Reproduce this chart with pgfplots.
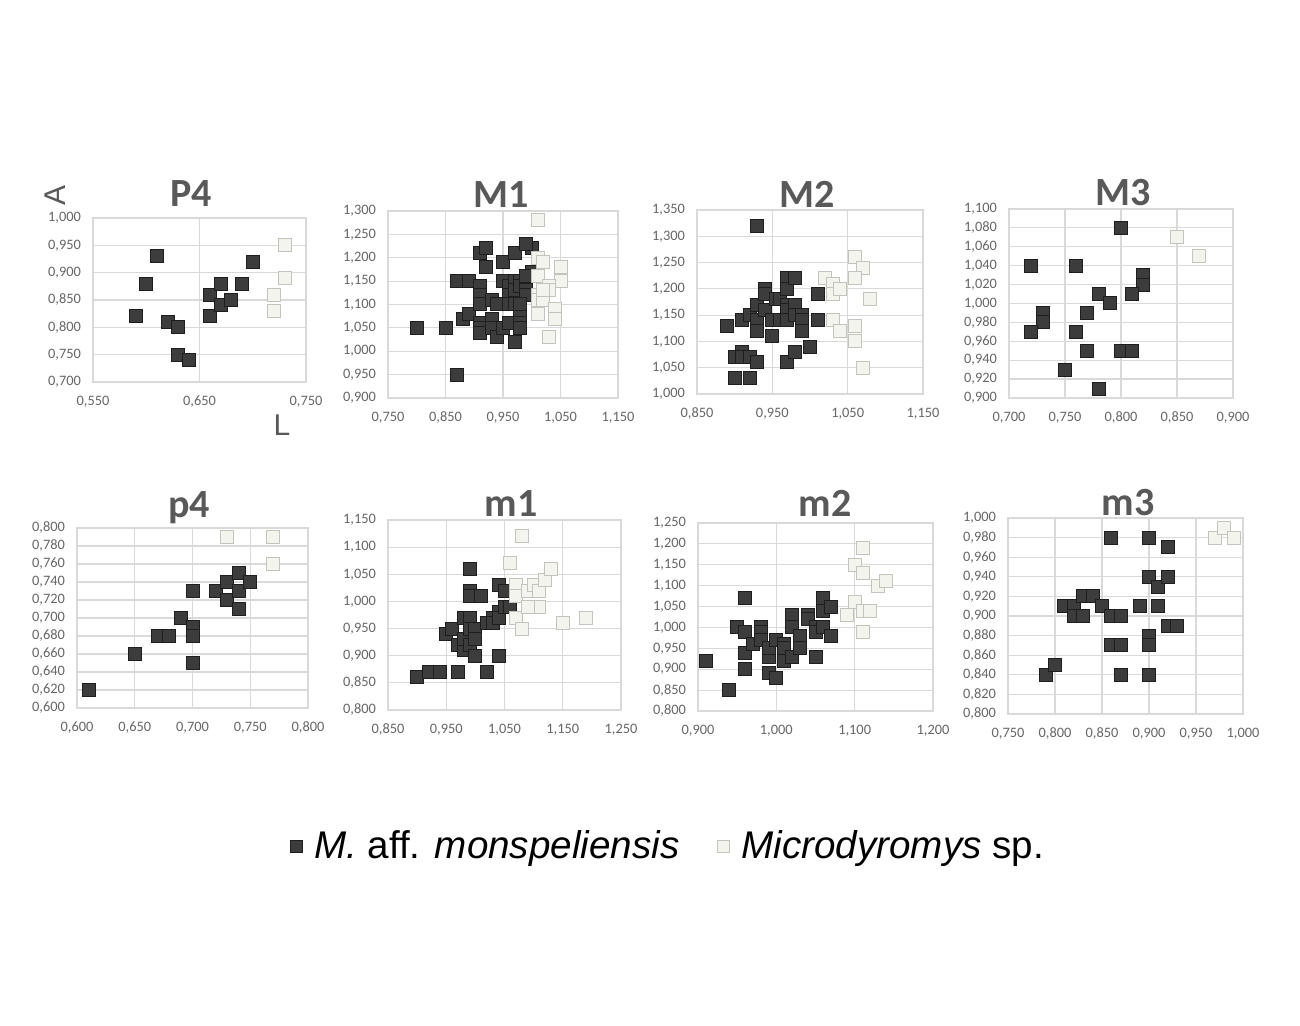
\documentclass[border=0pt]{standalone}
\usepackage{pgfplots}
\pgfplotsset{compat=1.18}
\usepackage{fontspec}
\setmainfont{Carlito}
\newfontfamily\arial{Liberation Sans}
\definecolor{gridc}{HTML}{D9D9D9}
\definecolor{tickc}{HTML}{666666}
\definecolor{titc}{HTML}{595959}
\definecolor{darkf}{HTML}{3C3C3C}
\definecolor{darkd}{HTML}{1E1E1E}
\definecolor{lightf}{HTML}{F4F4EE}
\definecolor{lightd}{HTML}{C4C4BC}
\newcommand\ticks{\fontsize{7.2}{8}\selectfont}
\newcommand\ttl{\fontsize{20}{24}\selectfont\bfseries}
\pgfplotsset{
  panel/.style={
    scale only axis, clip=false,
    grid=major, grid style={draw=gridc, line width=0.6pt},
    axis line style={draw=gridc, line width=0.6pt},
    major tick length=0pt,
    tick label style={font=\ticks, text=tickc},
    xticklabel style={yshift=-3.5pt, /pgf/number format/fixed, /pgf/number format/fixed zerofill, /pgf/number format/precision=3, /pgf/number format/use comma, /pgf/number format/assume math mode=true},
    yticklabel style={xshift=-2.5pt, /pgf/number format/fixed, /pgf/number format/fixed zerofill, /pgf/number format/precision=3, /pgf/number format/use comma, /pgf/number format/assume math mode=true},
    scaled ticks=false,
    title style={font=\ttl, text=titc, anchor=base, yshift=-6pt},
  },
  dk/.style={only marks, mark=square*, mark size=3.25pt, mark options={fill=darkf, draw=darkd, line width=0.5pt}},
  lt/.style={only marks, mark=square*, mark size=3.25pt, mark options={fill=lightf, draw=lightd, line width=0.5pt}},
}
\begin{document}
\begin{tikzpicture}
\path[use as bounding box, fill=white] (0,0) rectangle (650pt,513pt);
% P4
\begin{axis}[panel, at={(46.5pt,322pt)}, anchor=south west, width=106.5pt, height=82pt,
  xmin=0.55, xmax=0.75, ymin=0.70, ymax=1.00,
  xtick={0.55,0.65,0.75}, ytick={0.70,0.75,0.80,0.85,0.90,0.95,1.00},
  title={P4}, title style={at={(0.460,1.067)}}]
\addplot[dk] coordinates {(0.59,0.82)(0.61,0.93)(0.60,0.88)(0.62,0.81)(0.63,0.80)(0.63,0.75)(0.64,0.74)(0.66,0.86)(0.66,0.82)(0.67,0.88)(0.67,0.84)(0.68,0.85)(0.69,0.88)(0.70,0.92)};
\addplot[lt] coordinates {(0.73,0.95)(0.73,0.89)(0.72,0.86)(0.72,0.83)};
\node[font=\arial\fontsize{15}{16}\selectfont, text=titc, rotate=90] at (rel axis cs:-0.178,1.14) {A};
\node[font=\arial\fontsize{15}{16}\selectfont, text=titc] at (rel axis cs:0.887,-0.262) {L};
\end{axis}
% M1
\begin{axis}[panel, at={(194pt,314pt)}, anchor=south west, width=115pt, height=93.5pt,
  xmin=0.75, xmax=1.15, ymin=0.90, ymax=1.30,
  xtick={0.75,0.85,0.95,1.05,1.15}, ytick={0.90,0.95,1.00,1.05,1.10,1.15,1.20,1.25,1.30},
  title={M1}, title style={at={(0.491,1.021)}}]
\addplot[dk] coordinates {(0.80,1.05)(0.85,1.05)(0.87,0.95)(0.87,1.15)(0.89,1.15)(0.88,1.07)(0.89,1.08)
(0.91,1.21)(0.92,1.22)(0.92,1.18)(0.91,1.14)(0.91,1.12)(0.91,1.10)(0.91,1.06)(0.91,1.05)(0.91,1.04)
(0.93,1.11)(0.93,1.07)(0.93,1.05)(0.94,1.10)(0.94,1.03)(0.95,1.19)(0.95,1.15)(0.95,1.05)
(0.96,1.14)(0.96,1.12)(0.96,1.10)(0.97,1.21)(0.97,1.02)(0.97,1.15)(0.97,1.13)(0.97,1.10)(0.96,1.06)
(0.98,1.15)(0.98,1.14)(0.98,1.08)(0.98,1.06)(0.98,1.05)(1.00,1.22)(0.99,1.23)(0.99,1.13)(0.99,1.12)
(1.00,1.17)(0.98,1.10)(0.99,1.16)};
\addplot[lt] coordinates {(1.01,1.28)(1.01,1.20)(1.02,1.19)(1.01,1.16)(1.05,1.18)(1.05,1.15)(1.03,1.14)(1.03,1.13)
(1.01,1.12)(1.01,1.11)(1.02,1.11)(1.04,1.09)(1.01,1.08)(1.04,1.07)(1.03,1.03)(1.02,1.13)};
\end{axis}
% M2
\begin{axis}[panel, at={(348.5pt,316pt)}, anchor=south west, width=113pt, height=92pt,
  xmin=0.85, xmax=1.15, ymin=1.00, ymax=1.35,
  xtick={0.85,0.95,1.05,1.15}, ytick={1.00,1.05,1.10,1.15,1.20,1.25,1.30,1.35},
  title={M2}, title style={at={(0.487,1.016)}}]
\addplot[dk] coordinates {(0.93,1.32)(0.89,1.13)(0.90,1.07)(0.90,1.03)(0.92,1.03)(0.91,1.08)(0.91,1.07)(0.92,1.07)
(0.93,1.06)(0.91,1.14)(0.92,1.15)(0.93,1.17)(0.93,1.14)(0.93,1.12)(0.94,1.20)(0.94,1.19)(0.94,1.16)
(0.95,1.14)(0.95,1.11)(0.955,1.18)(0.96,1.18)(0.96,1.14)(0.97,1.22)(0.97,1.20)(0.97,1.17)(0.97,1.16)
(0.97,1.14)(0.97,1.06)(0.98,1.22)(0.98,1.17)(0.98,1.15)(0.98,1.08)(0.99,1.15)(0.99,1.14)(0.99,1.12)
(1.00,1.09)(1.01,1.19)(1.01,1.14)};
\addplot[lt] coordinates {(1.02,1.22)(1.03,1.21)(1.03,1.19)(1.04,1.20)(1.06,1.26)(1.07,1.24)(1.06,1.22)(1.08,1.18)
(1.03,1.14)(1.04,1.12)(1.06,1.13)(1.06,1.10)(1.07,1.05)};
\end{axis}
% M3
\begin{axis}[panel, at={(504.5pt,314pt)}, anchor=south west, width=112pt, height=94.5pt,
  xmin=0.70, xmax=0.90, ymin=0.90, ymax=1.10,
  xtick={0.70,0.75,0.80,0.85,0.90}, ytick={0.90,0.92,0.94,0.96,0.98,1.00,1.02,1.04,1.06,1.08,1.10},
  title={M3}, title style={at={(0.509,1.016)}}]
\addplot[dk] coordinates {(0.72,1.04)(0.76,1.04)(0.80,1.08)(0.82,1.03)(0.82,1.02)(0.78,1.01)(0.81,1.01)(0.79,1.00)
(0.73,0.99)(0.73,0.98)(0.77,0.99)(0.72,0.97)(0.76,0.97)(0.77,0.95)(0.80,0.95)(0.81,0.95)(0.75,0.93)(0.78,0.91)};
\addplot[lt] coordinates {(0.85,1.07)(0.87,1.05)};
\end{axis}
% p4
\begin{axis}[panel, at={(38.5pt,159pt)}, anchor=south west, width=115.5pt, height=90pt,
  xmin=0.60, xmax=0.80, ymin=0.60, ymax=0.80,
  xtick={0.60,0.65,0.70,0.75,0.80}, ytick={0.60,0.62,0.64,0.66,0.68,0.70,0.72,0.74,0.76,0.78,0.80},
  title={p4}, title style={at={(0.485,1.056)}}]
\addplot[dk] coordinates {(0.61,0.62)(0.65,0.66)(0.67,0.68)(0.68,0.68)(0.69,0.70)(0.70,0.73)(0.70,0.69)(0.70,0.68)
(0.70,0.65)(0.72,0.73)(0.73,0.74)(0.73,0.72)(0.74,0.75)(0.74,0.73)(0.74,0.71)(0.75,0.74)};
\addplot[lt] coordinates {(0.73,0.79)(0.77,0.79)(0.77,0.76)};
\end{axis}
% m1
\begin{axis}[panel, at={(194pt,158pt)}, anchor=south west, width=116.5pt, height=95pt,
  xmin=0.85, xmax=1.25, ymin=0.80, ymax=1.15,
  xtick={0.85,0.95,1.05,1.15,1.25}, ytick={0.80,0.85,0.90,0.95,1.00,1.05,1.10,1.15},
  title={m1}, title style={at={(0.528,1.021)}}]
\addplot[dk] coordinates {(0.90,0.86)(0.92,0.87)(0.94,0.87)(0.97,0.87)(1.02,0.87)(0.95,0.94)(0.96,0.95)(0.97,0.92)
(0.98,0.91)(0.98,0.93)(0.98,0.97)(0.99,1.06)(0.99,1.02)(0.99,1.01)(0.99,0.97)(0.99,0.95)(0.99,0.92)
(1.00,0.90)(1.00,0.95)(1.00,0.93)(1.01,1.01)(1.02,0.96)(1.03,0.97)(1.03,0.96)(1.04,1.03)(1.04,0.98)
(1.04,0.97)(1.04,0.90)(1.05,0.99)(1.05,1.02)(1.06,0.99)};
\addplot[lt] coordinates {(1.08,1.12)(1.06,1.07)(1.07,1.03)(1.07,1.01)(1.07,0.97)(1.08,0.95)(1.09,1.02)(1.10,1.03)
(1.10,0.99)(1.11,0.99)(1.11,1.02)(1.12,1.04)(1.13,1.06)(1.15,0.96)(1.19,0.97)(1.09,0.99)};
\end{axis}
% m2
\begin{axis}[panel, at={(349pt,157.5pt)}, anchor=south west, width=117.5pt, height=94pt,
  xmin=0.90, xmax=1.20, ymin=0.80, ymax=1.25,
  xtick={0.90,1.00,1.10,1.20}, ytick={0.80,0.85,0.90,0.95,1.00,1.05,1.10,1.15,1.20,1.25},
  title={m2}, title style={at={(0.540,1.032)}}]
\addplot[dk] coordinates {(0.91,0.92)(0.94,0.85)(0.95,1.00)(0.96,1.07)(0.96,0.99)(0.96,0.94)(0.96,0.90)(0.97,0.96)
(0.98,1.00)(0.98,0.99)(0.98,0.97)(0.99,0.93)(0.99,0.89)(0.99,0.95)(1.00,0.97)(1.00,0.88)(1.01,0.92)
(1.01,0.96)(1.01,0.95)(1.02,1.03)(1.02,1.00)(1.02,0.93)(1.03,0.98)(1.03,0.95)(1.04,1.03)(1.04,1.02)
(1.05,1.00)(1.05,0.99)(1.05,0.93)(1.06,1.07)(1.06,1.04)(1.06,1.00)(1.07,1.05)(1.07,0.98)};
\addplot[lt] coordinates {(1.11,1.19)(1.10,1.15)(1.11,1.13)(1.13,1.10)(1.14,1.11)(1.10,1.06)(1.09,1.03)(1.11,1.04)
(1.12,1.04)(1.11,0.99)};
\end{axis}
% m3
\begin{axis}[panel, at={(504pt,156pt)}, anchor=south west, width=117.5pt, height=98pt,
  xmin=0.75, xmax=1.00, ymin=0.80, ymax=1.00,
  xtick={0.75,0.80,0.85,0.90,0.95,1.00}, ytick={0.80,0.82,0.84,0.86,0.88,0.90,0.92,0.94,0.96,0.98,1.00},
  title={m3}, title style={at={(0.511,1.015)}}]
\addplot[dk] coordinates {(0.79,0.84)(0.80,0.85)(0.81,0.91)(0.82,0.91)(0.82,0.90)(0.83,0.92)(0.83,0.90)(0.84,0.92)
(0.85,0.91)(0.86,0.98)(0.86,0.90)(0.86,0.87)(0.87,0.90)(0.87,0.87)(0.87,0.84)(0.89,0.91)(0.90,0.98)
(0.90,0.94)(0.90,0.88)(0.90,0.87)(0.90,0.84)(0.91,0.93)(0.91,0.91)(0.92,0.97)(0.92,0.94)(0.92,0.89)(0.93,0.89)};
\addplot[lt] coordinates {(0.97,0.98)(0.98,0.99)(0.99,0.98)};
\end{axis}
% legend
\begin{axis}[hide axis, scale only axis, at={(0pt,0pt)}, anchor=south west, width=650pt, height=513pt,
  xmin=0, xmax=1, ymin=0, ymax=1,
  legend columns=2,
  legend style={at={(0.5146,0.1754)}, anchor=center, draw=none, fill=none,
    font=\arial\fontsize{19.3}{22}\selectfont,
    /tikz/every odd column/.append style={column sep=4pt},
    /tikz/every even column/.append style={column sep=17pt}}]
\addlegendimage{only marks, mark=square*, mark size=3pt, mark options={fill=darkf, draw=darkd, line width=0.5pt}}
\addlegendentry{\textit{M.} aff. \textit{monspeliensis}}
\addlegendimage{only marks, mark=square*, mark size=3pt, mark options={fill=lightf, draw=lightd, line width=0.5pt}}
\addlegendentry{\textit{Microdyromys} sp.}
\end{axis}
\end{tikzpicture}
\end{document}
